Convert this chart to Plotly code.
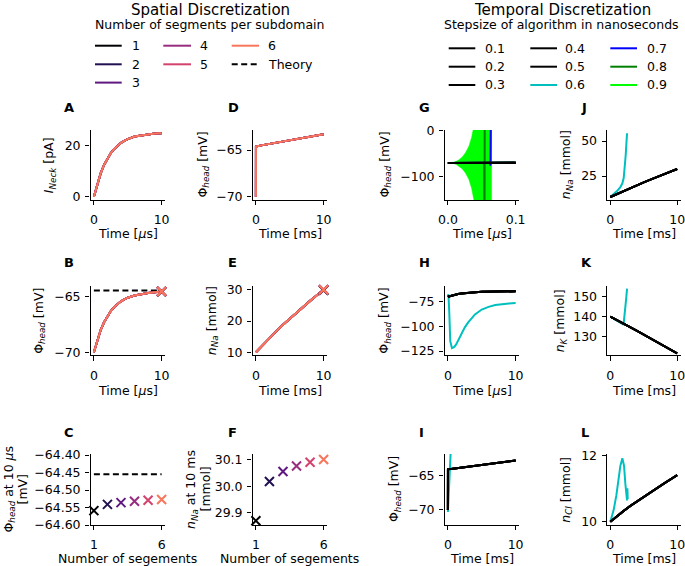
import plotly.graph_objects as go

W, H = 685, 566
FONT = "DejaVu Sans"
FS = 12.5

# ===================== data =====================
# ---- Spatial discretization (panels A-F) ----
segment_labels = ["1", "2", "3", "4", "5", "6"]
segment_numbers = [1, 2, 3, 4, 5, 6]
segment_colors = ["#000004", "#221150", "#5f187f", "#982d80", "#d3436e", "#f8765c"]

time_us = [0, 0.5, 1, 1.5, 2, 2.5, 3, 3.5, 4, 4.5, 5, 6, 7, 8, 9, 10]
neck_current_pA = [0, 5.1, 9.2, 12.5, 15.1, 17.2, 18.8, 20.1, 21.2, 22.0, 22.7, 23.7, 24.2, 24.6, 24.9, 25.0]
phi_head_us = [-70.0, -68.89, -68.0, -67.30, -66.73, -66.29, -65.93, -65.65, -65.42,
               -65.24, -65.09, -64.89, -64.76, -64.67, -64.60, -64.53]

time_ms_jump = [0, 0.01, 1, 2, 3, 4, 5, 6, 7, 8, 9, 10]
phi_head_ms = [-70.0, -64.62, -64.48, -64.35, -64.22, -64.09, -63.96, -63.83, -63.70, -63.57, -63.45, -63.32]

time_ms = [0, 1, 2, 3, 4, 5, 6, 7, 8, 9, 10]
n_na_spatial = [10.0, 12.3, 14.6, 16.7, 18.8, 20.8, 22.7, 24.6, 26.5, 28.3, 30.1]

phi_head_at_10us = [-64.559, -64.541, -64.536, -64.532, -64.529, -64.527]
n_na_at_10ms = [29.87, 30.018, 30.056, 30.077, 30.091, 30.101]
theory_phi_head = -64.455

# ---- Temporal discretization (panels G-L) ----
step_labels = ["0.1", "0.2", "0.3", "0.4", "0.5", "0.6", "0.7", "0.8", "0.9"]
step_colors = ["#000000", "#000000", "#000000", "#000000", "#000000",
               "#00bfbf", "#0000ff", "#008000", "#00ff00"]

# G: first 0.1 microseconds
g_time_stable = [0, 0.1]
g_phi_stable = [-70.0, -69.75]
g_time_06 = [0, 0.085, 0.1]
g_phi_06 = [-70.0, -70.0, -68.8]
g_time_07 = [0, 0.0625, 0.063, 0.0634]
g_phi_07 = [-70.0, -70.0, -76.0, 30.0]
g_time_08 = [0, 0.0535, 0.054, 0.0545]
g_phi_08 = [-70.0, -70.0, -260.0, 150.0]
g_time_09_env = [0.004, 0.008, 0.012, 0.016, 0.021, 0.026, 0.031, 0.035, 0.039, 0.0645]
g_phi_09_upper = [-70.0, -68.8, -66.8, -63.5, -57.5, -48.0, -34.0, -15.0, 15.0, 15.0]
g_phi_09_lower = [-70.0, -71.2, -73.2, -76.5, -82.5, -92.0, -106.0, -125.0, -155.0, -155.0]

# H: first 10 microseconds
h_phi_stable = [-70.0, -68.9, -68.0, -67.3, -66.7, -66.3, -65.9, -65.6, -65.4,
                -65.2, -65.1, -64.9, -64.75, -64.65, -64.6, -64.52]
h_time_06 = [0, 0.08, 0.2, 0.35, 0.6, 0.9, 1.2, 1.6, 2.0, 2.5, 3.0, 3.5, 4.0, 5.0, 6.0, 7.0, 8.0, 9.0, 10.0]
h_phi_06 = [-70.0, -67.5, -85.0, -115.0, -122.0, -121.0, -118.5, -113.0, -107.5, -101.0,
            -96.0, -91.5, -88.0, -83.0, -80.3, -78.5, -77.5, -76.9, -76.5]

# I: 10 milliseconds
i_phi_stable = [-70.0, -64.08, -63.95, -63.82, -63.69, -63.56, -63.44, -63.31, -63.18, -63.05, -62.93, -62.80]
i_time_06 = [0, 0.1, 0.2, 0.3, 0.4, 0.5]
i_phi_06 = [-70.3, -68.4, -66.3, -64.2, -62.0, -59.8]

# J, K, L: ion amounts over 10 ms
j_na_stable = [10.0, 12.2, 14.4, 16.5, 18.5, 20.5, 22.4, 24.3, 26.2, 28.1, 30.0]
j_time_06 = [0, 0.5, 1.0, 1.5, 1.8, 2.0, 2.1, 2.2, 2.3, 2.4, 2.5]
j_na_06 = [10.0, 11.9, 14.2, 17.0, 19.8, 23.5, 27.5, 33.0, 40.0, 48.0, 55.5]

k_k_stable = [140.0, 138.3, 136.5, 134.7, 132.9, 131.0, 129.2, 127.3, 125.4, 123.5, 121.7]
k_time_06 = [0, 0.5, 1.0, 1.5, 1.9, 2.0, 2.1, 2.2, 2.3, 2.4, 2.5]
k_k_06 = [140.0, 139.0, 138.0, 137.0, 136.2, 136.8, 139.5, 142.5, 146.0, 150.0, 154.0]

l_cl_stable = [10.0, 10.17, 10.33, 10.48, 10.62, 10.76, 10.9, 11.03, 11.16, 11.29, 11.42]
l_time_06 = [0, 0.5, 0.9, 1.25, 1.5, 1.8, 2.05, 2.25, 2.4, 2.5, 2.55, 2.6]
l_cl_06 = [10.0, 10.36, 10.8, 11.37, 11.7, 11.93, 11.7, 11.15, 10.68, 10.65, 11.02, 10.68]

# ===================== layout helpers =====================
COLS = {1: (90.5, 165.0), 2: (252.5, 327.0), 3: (444.5, 519.0), 4: (607.0, 680.5)}
ROWS = {1: (130.0, 200.0), 2: (286.0, 355.3), 3: (454.0, 525.0)}


def px(x):
    return x / W


def py(y):
    return 1 - y / H


def neg(v):
    return str(v).replace("-", "\u2212")


TIME_R = [-0.5, 10.5]
SEG_R = [0.75, 6.25]
panels = {
    # letter: (index, col, row, xrange, xticks, xticktext, yrange, yticks, yticktext)
    "A": (1, 1, 1, TIME_R, [0, 10], None, [-1.25, 26.25], [0, 20], None),
    "B": (2, 1, 2, TIME_R, [0, 10], None, [-70.27, -64.04], [-70, -65], None),
    "C": (3, 1, 3, SEG_R, [1, 6], None, [-64.6, -64.397],
          [-64.6, -64.55, -64.5, -64.45, -64.4], ["\u221264.60", "\u221264.55", "\u221264.50", "\u221264.45", "\u221264.40"]),
    "D": (4, 2, 1, TIME_R, [0, 10], None, [-70.35, -62.86], [-70, -65], None),
    "E": (5, 2, 2, TIME_R, [0, 10], None, [9.02, 31.28], [10, 20, 30], None),
    "F": (6, 2, 3, SEG_R, [1, 6], None, [29.854, 30.122], [29.9, 30.0, 30.1], ["29.9", "30.0", "30.1"]),
    "G": (7, 3, 1, [-0.005, 0.105], [0, 0.1], ["0.0", "0.1"], [-150.7, 1.5], [-100, 0], None),
    "H": (8, 3, 2, TIME_R, [0, 10], None, [-129.3, -59.2], [-125, -100, -75], None),
    "I": (9, 3, 3, TIME_R, [0, 10], None, [-72.19, -61.84], [-70, -65], None),
    "J": (10, 4, 1, TIME_R, [0, 10], None, [7.86, 57.86], [25, 50], None),
    "K": (11, 4, 2, TIME_R, [0, 10], None, [120.7, 155.35], [130, 140, 150], None),
    "L": (12, 4, 3, TIME_R, [0, 10], None, [9.9, 12.06], [10, 12], None),
}

fig = go.Figure()
layout = dict(template="none", width=W, height=H, autosize=False,
              margin=dict(l=0, r=0, t=0, b=0, pad=0, autoexpand=False),
              paper_bgcolor="white", plot_bgcolor="white", showlegend=False,
              font=dict(family=FONT, size=FS, color="black"))


def axname(i):
    return "" if i == 1 else str(i)


for letter, (i, c, r, xr, xt, xtt, yr, yt, ytt) in panels.items():
    x0, x1 = COLS[c]
    y0, y1 = ROWS[r]
    common = dict(showline=True, linecolor="black", linewidth=1.1, ticks="outside", ticklen=4.4,
                  tickwidth=1.1, tickcolor="black", showgrid=False, zeroline=False, fixedrange=True,
                  automargin=False, ticklabeloverflow="allow",
                  tickfont=dict(family=FONT, size=FS, color="black"))
    layout["xaxis" + axname(i)] = dict(domain=[px(x0), px(x1)], range=xr, tickvals=xt,
                                       ticktext=xtt if xtt else [neg(v) for v in xt],
                                       anchor="y" + axname(i), ticklabelstandoff=4, **common)
    layout["yaxis" + axname(i)] = dict(domain=[py(y1), py(y0)], range=yr, tickvals=yt,
                                       ticktext=ytt if ytt else [neg(v) for v in yt],
                                       anchor="x" + axname(i), ticklabelstandoff=2, **common)


def line(letter, x, y, color, width=2, dash=None, fill=None):
    i = panels[letter][0]
    fig.add_trace(go.Scatter(x=x, y=y, xaxis="x" + axname(i), yaxis="y" + axname(i), mode="lines",
                             line=dict(color=color, width=width, dash=dash), fill=fill,
                             fillcolor=color if fill else None,
                             showlegend=False, hoverinfo="skip"))


def marks(letter, x, y, color, size=9):
    i = panels[letter][0]
    fig.add_trace(go.Scatter(x=x, y=y, xaxis="x" + axname(i), yaxis="y" + axname(i), mode="markers",
                             marker=dict(symbol="x-thin", size=size, color=color,
                                         line=dict(color=color, width=2)),
                             showlegend=False, hoverinfo="skip", cliponaxis=False))


DASH = "6px,3.5px"

# ---- spatial panels ----
line("B", [0, 10], [theory_phi_head, theory_phi_head], "black", dash=DASH)
line("C", [1, 6], [theory_phi_head, theory_phi_head], "black", dash=DASH)
for k, col in enumerate(segment_colors):
    line("A", time_us, neck_current_pA, col)
    line("B", time_us, phi_head_us, col)
    line("D", time_ms_jump, phi_head_ms, col)
    line("E", time_ms, n_na_spatial, col)
for k, col in enumerate(segment_colors):
    marks("B", [10], [phi_head_at_10us[k]], col)
    marks("E", [10], [n_na_at_10ms[k]], col)
    marks("C", [segment_numbers[k]], [phi_head_at_10us[k]], col)
    marks("F", [segment_numbers[k]], [n_na_at_10ms[k]], col)

# ---- temporal panels (largest step drawn first, smallest on top) ----
env_x = g_time_09_env + g_time_09_env[::-1]
env_y = g_phi_09_upper + g_phi_09_lower[::-1]
line("G", env_x, env_y, step_colors[8], width=0.5, fill="toself")
line("G", g_time_08, g_phi_08, step_colors[7])
line("G", g_time_07, g_phi_07, step_colors[6])
line("G", g_time_06, g_phi_06, step_colors[5])
line("H", h_time_06, h_phi_06, step_colors[5])
line("I", i_time_06, i_phi_06, step_colors[5])
line("J", j_time_06, j_na_06, step_colors[5])
line("K", k_time_06, k_k_06, step_colors[5])
line("L", l_time_06, l_cl_06, step_colors[5])
for s in range(4, -1, -1):
    col = step_colors[s]
    line("G", g_time_stable, g_phi_stable, col)
    line("H", time_us, h_phi_stable, col)
    line("I", time_ms_jump, i_phi_stable, col)
    line("J", time_ms, j_na_stable, col)
    line("K", time_ms, k_k_stable, col)
    line("L", time_ms, l_cl_stable, col)

# ===================== text =====================
ann = []
shapes = []


def text(x, y, s, size=FS, xanchor="center", angle=0):
    ann.append(dict(x=px(x), y=py(y), xref="paper", yref="paper", text=s, showarrow=False,
                    xanchor=xanchor, yanchor="middle", textangle=angle,
                    font=dict(family=FONT, size=size, color="black")))


PHI = "\u03a6<sub><i>head</i></sub> [mV]"
NNA = "<i>n</i><sub><i>Na</i></sub> [mmol]"
T_US = "Time [<i>\u03bc</i>s]"
T_MS = "Time [ms]"
NSEG = "Number of segements"

ytitles = {
    "A": (49.2, "<i>I</i><sub><i>Neck</i></sub> [pA]"),
    "B": (39.2, PHI),
    "D": (202.5, PHI),
    "E": (212.5, NNA),
    "G": (384.5, PHI),
    "H": (385.0, PHI),
    "I": (394.5, PHI),
    "J": (566.2, NNA),
    "K": (560.7, "<i>n</i><sub><i>K</i></sub> [mmol]"),
    "L": (566.2, "<i>n</i><sub><i>Cl</i></sub> [mmol]"),
}
xtitles = {"A": T_US, "B": T_US, "C": NSEG, "D": T_MS, "E": T_MS, "F": NSEG,
           "G": T_US, "H": T_US, "I": T_MS, "J": T_MS, "K": T_MS, "L": T_MS}
XT_Y = {1: 233.4, 2: 390.7, 3: 558.6}
LETTER_X = {1: 62.0, 2: 225.5, 3: 417.0, 4: 578.5}
LETTER_Y = {1: 107.6, 2: 262.2, 3: 432.5}

for letter, (i, c, r, *_rest) in panels.items():
    x0, x1 = COLS[c]
    y0, y1 = ROWS[r]
    text((x0 + x1) / 2, XT_Y[r], xtitles[letter])
    if letter in ytitles:
        xx, s = ytitles[letter]
        text(xx, (y0 + y1) / 2, s, angle=-90)
    text(LETTER_X[c], LETTER_Y[r], "<b>%s</b>" % letter, size=13, xanchor="left")

# two-line y titles of C and F
mid3 = (ROWS[3][0] + ROWS[3][1]) / 2
text(9.0, mid3, "\u03a6<sub><i>head</i></sub> at 10 <i>\u03bc</i>s", angle=-90)
text(22.0, mid3, "[mV]", angle=-90)
text(191.5, mid3, "<i>n</i><sub><i>Na</i></sub> at 10 ms", angle=-90)
text(205.0, mid3, "[mmol]", angle=-90)

# ---- headers ----
text(210.0, 9.5, "Spatial Discretization", size=15)
text(209.2, 25.0, "Number of segments per subdomain")
text(562.8, 9.5, "Temporal Discretization", size=15)
text(561.2, 25.0, "Stepsize of algorithm in nanoseconds")


# ---- legends (drawn from the series lists) ----
def legend_entry(xa, xb, xl, y, label, color, dash=None):
    shapes.append(dict(type="line", xref="paper", yref="paper", x0=px(xa), x1=px(xb),
                       y0=py(y), y1=py(y), line=dict(color=color, width=2, dash=dash)))
    text(xl, y, label, xanchor="left")


sp_cols = [(95.0, 121.7, 129.5), (163.3, 191.0, 197.8), (231.7, 259.0, 266.0)]
sp_rows = [45.7, 64.3, 82.6]
sp_entries = [(lab, col, None) for lab, col in zip(segment_labels, segment_colors)] + [("Theory", "black", DASH)]
sp_slots = [(0, 0), (0, 1), (0, 2), (1, 0), (1, 1), (2, 0), (2, 1)]
for (lab, col, dash), (ci, ri) in zip(sp_entries, sp_slots):
    xa, xb, xl = sp_cols[ci]
    legend_entry(xa, xb, xl, sp_rows[ri], lab, col, dash)

tp_cols = [(448.7, 475.3, 483.3), (530.3, 557.0, 563.3), (610.3, 637.0, 645.0)]
tp_rows = [48.3, 66.7, 85.0]
for k, (lab, col) in enumerate(zip(step_labels, step_colors)):
    xa, xb, xl = tp_cols[k // 3]
    legend_entry(xa, xb, xl, tp_rows[k % 3], lab, col)

layout["annotations"] = ann
layout["shapes"] = shapes
fig.update_layout(**layout)
fig.write_html("out.html", config={"displayModeBar": False},
               post_script="document.body.style.margin='0px';")
